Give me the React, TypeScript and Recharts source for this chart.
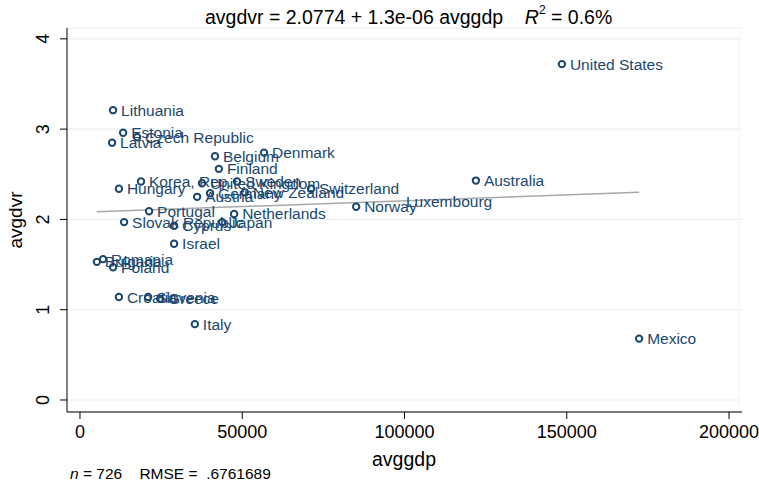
import { ScatterChart, Scatter, XAxis, YAxis, CartesianGrid, LabelList } from "recharts"

const countries = [
  "United States", "Mexico", "Australia", "Norway", "Luxembourg", "Lithuania", "Estonia",
  "Czech Republic", "Latvia", "Belgium", "Denmark", "Finland", "Korea, Rep.", "Hungary",
  "United Kingdom", "Sweden", "Austria", "Germany", "New Zealand", "Switzerland", "Portugal",
  "Slovak Republic", "Netherlands", "Cyprus", "Japan", "Israel", "Romania", "Bulgaria",
  "Poland", "Croatia", "Slovenia", "Greece", "Italy",
]
const avggdp = [
  148500, 172300, 122000, 85100, 98000, 10200, 13300,
  17600, 9900, 41600, 56700, 42800, 18800, 12000,
  37600, 48400, 36100, 40100, 50800, 71200, 21300,
  13600, 47500, 29000, 43800, 29000, 7100, 5200,
  10200, 12000, 21000, 24700, 35400,
]
const avgdvr = [
  3.72, 0.68, 2.43, 2.14, 2.2, 3.21, 2.96,
  2.91, 2.85, 2.70, 2.74, 2.56, 2.42, 2.34,
  2.40, 2.42, 2.25, 2.29, 2.30, 2.34, 2.09,
  1.97, 2.06, 1.93, 1.97, 1.73, 1.56, 1.53,
  1.47, 1.14, 1.14, 1.12, 0.84,
]
// markers hidden under other labels in the original
const hiddenMarkers = ["Luxembourg"]

const fitX = [5200, 172300]
const fitY = [2.084, 2.301]

const xTicks = [0, 50000, 100000, 150000, 200000]
const yTicks = [0, 1, 2, 3, 4]

const navy = "#1a476f"
const font = "'Liberation Sans', Arial, sans-serif"

const points = countries.map((name, i) => ({ name, x: avggdp[i], y: avgdvr[i] }))
const fitData = fitX.map((x, i) => ({ x, y: fitY[i] }))

const Marker = (props: any) => {
  const { cx, cy, payload } = props
  if (hiddenMarkers.includes(payload.name)) return <g />
  return <circle cx={cx} cy={cy} r={3.2} fill="#fff" stroke={navy} strokeWidth={2} />
}

const YTick = (props: any) => {
  const { y, payload } = props
  return (
    <text x={43} y={y} transform={`rotate(-90, 43, ${y})`} textAnchor="middle" dominantBaseline="central"
      fontSize={18} fill="#000" fontFamily={font}>
      {payload.value}
    </text>
  )
}

const XTick = (props: any) => {
  const { x, payload } = props
  return (
    <text x={x} y={432} textAnchor="middle" dominantBaseline="central" fontSize={18} fill="#000" fontFamily={font}>
      {payload.value}
    </text>
  )
}

const PointLabel = (props: any) => {
  const { x, y, width, height, value } = props
  const cx = x + (width || 0) / 2
  const cy = y + (height || 0) / 2
  return (
    <text x={cx + 8} y={cy} dominantBaseline="central" fontSize={15.5} fill={navy} fontFamily={font}>
      {value}
    </text>
  )
}

export default function App() {
  return (
    <div style={{ position: "absolute", left: 0, top: 0, width: 759, height: 486, background: "#fff" }}>
      <ScatterChart width={759} height={486} margin={{ top: 28, right: 17, bottom: 0, left: 0 }}>
        <CartesianGrid vertical={false} stroke="#e8f0f2" strokeWidth={1.2} />
        <XAxis type="number" dataKey="x" domain={[-4000, 204000]} ticks={xTicks} height={74}
          stroke="#000" tickSize={7} tick={<XTick />} allowDataOverflow />
        <YAxis type="number" dataKey="y" domain={[-0.133, 4.12]} ticks={yTicks} width={67}
          stroke="#000" tickSize={7} tick={<YTick />} allowDataOverflow />
        <Scatter data={fitData} line={{ stroke: "#a8a8a8", strokeWidth: 1.5 }} shape={() => <g />}
          isAnimationActive={false} />
        <Scatter data={points} shape={<Marker />} isAnimationActive={false}>
          <LabelList dataKey="name" content={<PointLabel />} />
        </Scatter>
        <line x1={739} y1={30} x2={739} y2={410} stroke="#f0f4f5" strokeWidth={1} />
        <text x={205} y={17} dominantBaseline="central" fontSize={19.5} fontFamily={font} fill="#000">
          avgdvr = 2.0774 + 1.3e-06 avggdp{"\u00a0\u00a0\u00a0\u00a0"}
          <tspan fontStyle="italic">R</tspan>
          <tspan dy={-7} fontSize={12}>2</tspan>
          <tspan dy={7}> = 0.6%</tspan>
        </text>
        <text x={15} y={220} transform="rotate(-90, 15, 220)" textAnchor="middle" dominantBaseline="central"
          fontSize={19} fontFamily={font} fill="#000">
          avgdvr
        </text>
        <text x={404} y={459} textAnchor="middle" dominantBaseline="central" fontSize={19.5} fontFamily={font} fill="#000">
          avggdp
        </text>
        <text x={70} y={473} dominantBaseline="central" fontSize={15.5} fontFamily={font} fill="#000">
          <tspan fontStyle="italic">n</tspan> = 726{"\u00a0\u00a0\u00a0\u00a0"}RMSE = {"\u00a0"}.6761689
        </text>
      </ScatterChart>
    </div>
  )
}
